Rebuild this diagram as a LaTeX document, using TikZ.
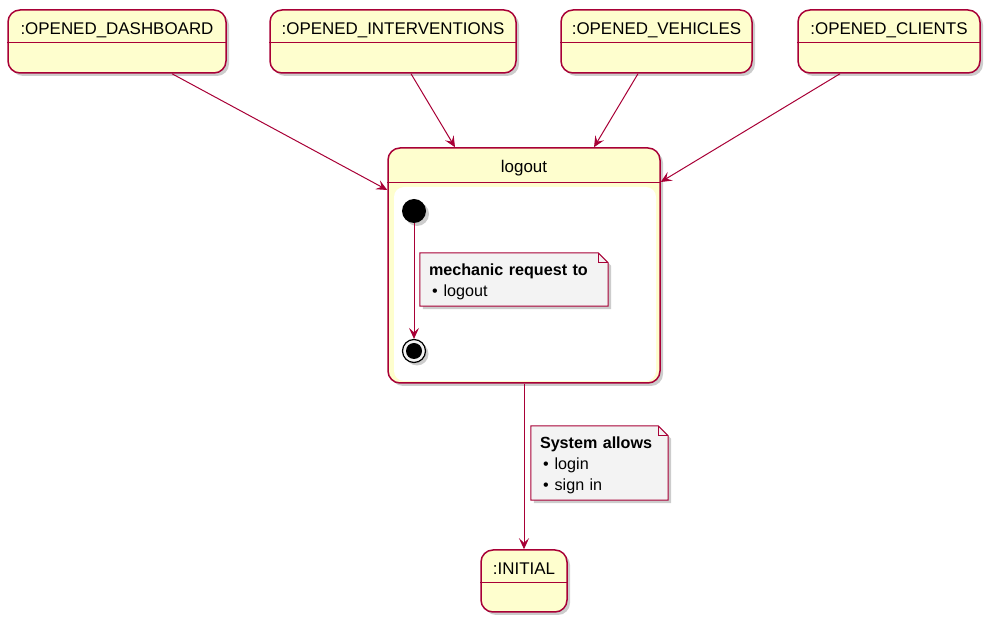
\documentclass[tikz,border=0pt]{standalone}
\usepackage{fontspec}
\setmainfont{Liberation Sans}
\usetikzlibrary{arrows.meta,shadows}

\definecolor{umlline}{HTML}{A80036}
\definecolor{umlfill}{HTML}{FEFECE}
\definecolor{umlnote}{HTML}{F3F3F3}

\pgfdeclarelayer{notebg}
\pgfdeclarelayer{notefg}
\pgfsetlayers{main,notebg,notefg}

\tikzset{
  umlshadow/.style={drop shadow={shadow xshift=3bp,shadow yshift=-3bp,fill=black!50,opacity=.4}},
  statebox/.style={draw=umlline,fill=umlfill,line width=1.5bp,rounded corners=12bp,inner sep=0pt,umlshadow},
  statetitle/.style={inner sep=0pt,anchor=base,font=\fontsize{17}{19}\selectfont},
  divider/.style={draw=umlline,line width=1.2bp},
  notetext/.style={inner xsep=9bp,inner ysep=0pt,align=left,font=\fontsize{16.2}{21}\selectfont},
  notebox/.style={draw=umlline,fill=umlnote,line width=1bp,umlshadow},
  fold/.style={draw=umlline,line width=1bp},
  edge/.style={draw=umlline,line width=1bp,-{Stealth[length=11bp,width=10bp,inset=4.5bp]}},
}
% note with folded corner: name, position, text width, height, text
\newcommand{\umlnote}[5]{%
  \begin{pgfonlayer}{notefg}
    \node[notetext,text width=#3,minimum height=#4] (#1) at (#2) {#5};
  \end{pgfonlayer}
  \begin{pgfonlayer}{notebg}
    \draw[notebox] (#1.south west) -- (#1.north west) -- ([xshift=-10bp]#1.north east)
      -- ([yshift=-10bp]#1.north east) -- (#1.south east) -- cycle;
    \draw[fold] ([xshift=-10bp]#1.north east) |- ([yshift=-10bp]#1.north east);
  \end{pgfonlayer}}
\newcommand{\umlitem}[1]{\hspace*{3bp}\textbullet\hspace{6bp}#1}

\begin{document}
\begin{tikzpicture}[>=latex,line join=bevel]
\useasboundingbox (0bp,0bp) rectangle (994bp,625bp);
%%
  % Node: OPENED_DASHBOARD
  \node[statebox,minimum width=218bp,minimum height=63bp] (dash) at (117bp,583.5bp) {};
  \draw[divider] ([yshift=-33bp]dash.north west) -- ([yshift=-33bp]dash.north east);
  \node[statetitle] (dash-t) at ([yshift=-25bp]dash.north) {:OPENED\_DASHBOARD};
  % Node: OPENED_INTERVENTIONS
  \node[statebox,minimum width=246bp,minimum height=63bp] (interv) at (393bp,583.5bp) {};
  \draw[divider] ([yshift=-33bp]interv.north west) -- ([yshift=-33bp]interv.north east);
  \node[statetitle] (interv-t) at ([yshift=-25bp]interv.north) {:OPENED\_INTERVENTIONS};
  % Node: OPENED_VEHICLES
  \node[statebox,minimum width=191bp,minimum height=63bp] (veh) at (656.5bp,583.5bp) {};
  \draw[divider] ([yshift=-33bp]veh.north west) -- ([yshift=-33bp]veh.north east);
  \node[statetitle] (veh-t) at ([yshift=-25bp]veh.north) {:OPENED\_VEHICLES};
  % Node: OPENED_CLIENTS
  \node[statebox,minimum width=182bp,minimum height=63bp] (cli) at (889bp,583.5bp) {};
  \draw[divider] ([yshift=-33bp]cli.north west) -- ([yshift=-33bp]cli.north east);
  \node[statetitle] (cli-t) at ([yshift=-25bp]cli.north) {:OPENED\_CLIENTS};
  % Node: logout
  \node[statebox,minimum width=272bp,minimum height=235bp] (logout) at (524bp,359.5bp) {};
  \node[fill=white,rounded corners=10bp,inner sep=0pt,minimum width=262bp,minimum height=194bp] (logout-in) at (525bp,341bp) {};
  \draw[divider] ([yshift=-35bp]logout.north west) -- ([yshift=-35bp]logout.north east);
  \node[statetitle] (logout-t) at ([yshift=-25bp]logout.north) {logout};
  % Node: start / stop
  \node[circle,fill=black,inner sep=0pt,minimum size=24bp,umlshadow] (start) at (414bp,414bp) {};
  \node[circle,draw=black,fill=black!5,line width=1.2bp,inner sep=0pt,minimum size=23bp,umlshadow] (stop) at (414bp,274bp) {};
  \node[circle,fill=black,inner sep=0pt,minimum size=16bp] (stop-in) at (stop) {};
  % Node: INITIAL
  \node[statebox,minimum width=86bp,minimum height=62bp] (initial) at (524bp,44bp) {};
  \draw[divider] ([yshift=-33bp]initial.north west) -- ([yshift=-33bp]initial.north east);
  \node[statetitle] (initial-t) at ([yshift=-25bp]initial.north) {:INITIAL};
%
  % Edge: OPENED_DASHBOARD -> logout
  \draw[edge] ([xshift=55bp]dash.south) -- ([yshift=75.5bp]logout.west);
  % Edge: OPENED_INTERVENTIONS -> logout
  \draw[edge] ([xshift=18bp]interv.south) -- ([xshift=-69bp]logout.north);
  % Edge: OPENED_VEHICLES -> logout
  \draw[edge] ([xshift=-18.5bp]veh.south) -- ([xshift=70bp]logout.north);
  % Edge: OPENED_CLIENTS -> logout
  \draw[edge] ([xshift=-49bp]cli.south) -- ([yshift=83.5bp]logout.east);
  % Edge: start -> stop
  \draw[edge] (start) -- (stop);
  % Edge: logout -> INITIAL
  \draw[edge] (logout.south) -- (initial.north);
%
  % Note: mechanic request
  \umlnote{note-req}{514bp,345.5bp}{170bp}{53bp}
    {\rule{0pt}{17bp}\textbf{mechanic request to}\\\umlitem{logout}}
  % Note: system allows
  \umlnote{note-sys}{599.5bp,162bp}{119bp}{74bp}
    {\rule{0pt}{17bp}\textbf{System allows}\\\umlitem{login}\\\umlitem{sign in}}
%
\end{tikzpicture}
\end{document}
